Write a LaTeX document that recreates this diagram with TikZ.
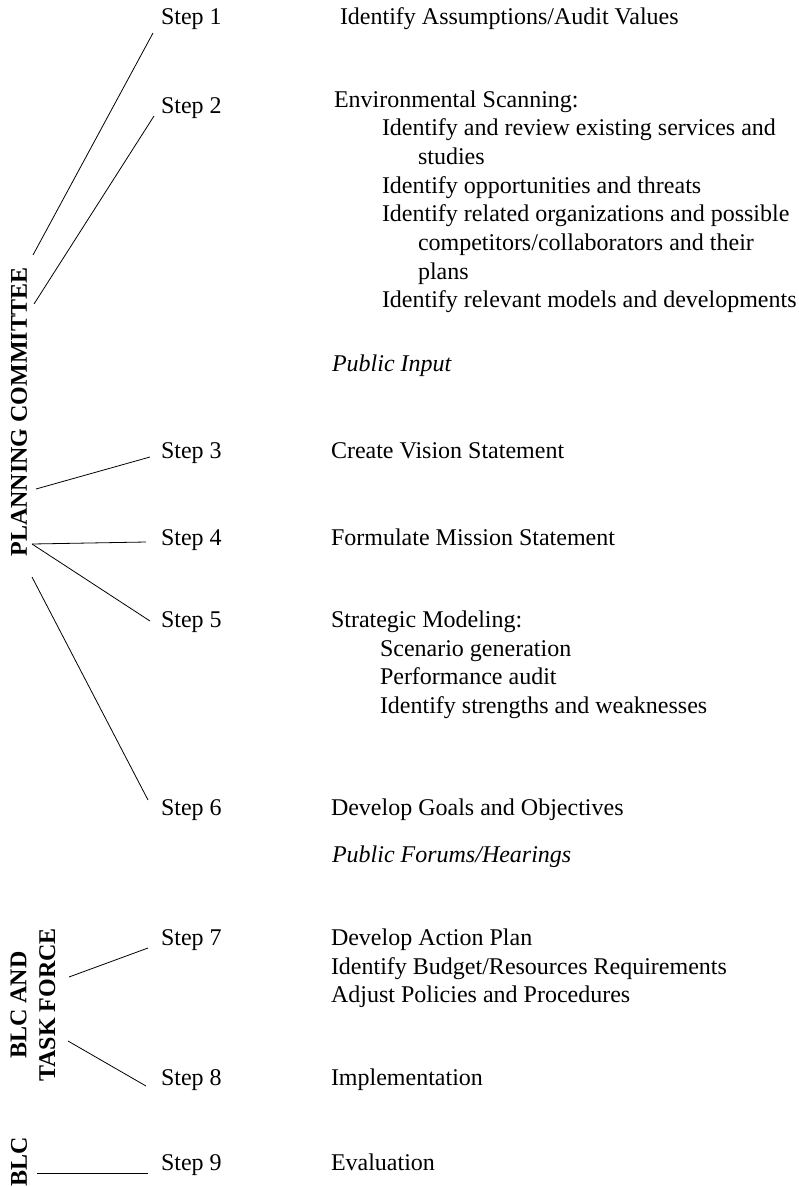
\documentclass[tikz,border=0pt]{standalone}
\usepackage{fontspec}
\setmainfont{Liberation Serif}
\begin{document}
\begin{tikzpicture}[x=1pt,y=-1pt,
  every node/.style={inner sep=0pt,outer sep=0pt,font=\fontsize{24}{28.7}\selectfont},
  steplabel/.style={anchor=base west},
  item/.style={anchor=base west},
  pub/.style={anchor=base west,font=\fontsize{24}{28.7}\selectfont\itshape},
  group/.style={rotate=90,font=\fontsize{24}{28.7}\selectfont\bfseries,align=center},
  link/.style={line width=0.8pt,black}]
\useasboundingbox (0,0) rectangle (799,1187);

% committees, set vertically along the left edge
\node[group] (pc) at (19,412) {PLANNING COMMITTEE};
\node[group] (blctf) at (33,1005) {BLC AND\\TASK FORCE};
\node[group] (blc) at (19,1162) {BLC};

% step labels
\node[steplabel] (s1) at (161,24) {Step 1};
\node[steplabel] (s2) at (161,113) {Step 2};
\node[steplabel] (s3) at (161,458) {Step 3};
\node[steplabel] (s4) at (161,545) {Step 4};
\node[steplabel] (s5) at (161,627) {Step 5};
\node[steplabel] (s6) at (161,815) {Step 6};
\node[steplabel] (s7) at (161,945) {Step 7};
\node[steplabel] (s8) at (161,1085) {Step 8};
\node[steplabel] (s9) at (161,1170) {Step 9};

% step descriptions
\node[item] (t1) at (340,24) {Identify Assumptions/Audit Values};

\node[item] (t2) at (334,107) {Environmental Scanning:};
\node[item] (t2a) at (382,135) {Identify and review existing services and};
\node[item] (t2b) at (418,164) {studies};
\node[item] (t2c) at (382,193) {Identify opportunities and threats};
\node[item] (t2d) at (382,221) {Identify related organizations and possible};
\node[item] (t2e) at (418,250) {competitors/collaborators and their};
\node[item] (t2f) at (418,279) {plans};
\node[item] (t2g) at (382,307) {Identify relevant models and developments};
\node[pub] (p1) at (332,371) {Public Input};

\node[item] (t3) at (331,458) {Create Vision Statement};
\node[item] (t4) at (331,545) {Formulate Mission Statement};

\node[item] (t5) at (331,627) {Strategic Modeling:};
\node[item] (t5a) at (380,656) {Scenario generation};
\node[item] (t5b) at (380,684) {Performance audit};
\node[item] (t5c) at (380,713) {Identify strengths and weaknesses};

\node[item] (t6) at (331,815) {Develop Goals and Objectives};
\node[pub] (p2) at (332,862) {Public Forums/Hearings};

\node[item] (t7) at (331,945) {Develop Action Plan};
\node[item] (t7a) at (331,974) {Identify Budget/Resources Requirements};
\node[item] (t7b) at (331,1002) {Adjust Policies and Procedures};

\node[item] (t8) at (331,1085) {Implementation};
\node[item] (t9) at (331,1170) {Evaluation};

% connector ends beside the committee labels
\coordinate (g1) at (33,255);
\coordinate (g2) at (34,304);
\coordinate (g3) at (36,489);
\coordinate (g45) at (32,544);
\coordinate (g6) at (32,577);
\coordinate (g7) at (69,977);
\coordinate (g8) at (68,1041);
\coordinate (g9) at (37,1173);

% connector ends beside the step labels
\coordinate (e1) at (153,33);
\coordinate (e2) at (154,116);
\coordinate (e3) at (150,457);
\coordinate (e4) at (146,542);
\coordinate (e5) at (150,621);
\coordinate (e6) at (148,800);
\coordinate (e7) at (148,948);
\coordinate (e8) at (146,1086);
\coordinate (e9) at (148,1173);

\draw[link] (g1) -- (e1);
\draw[link] (g2) -- (e2);
\draw[link] (g3) -- (e3);
\draw[link] (g45) -- (e4);
\draw[link] (g45) -- (e5);
\draw[link] (g6) -- (e6);
\draw[link] (g7) -- (e7);
\draw[link] (g8) -- (e8);
\draw[link] (g9) -- (e9);
\end{tikzpicture}
\end{document}
